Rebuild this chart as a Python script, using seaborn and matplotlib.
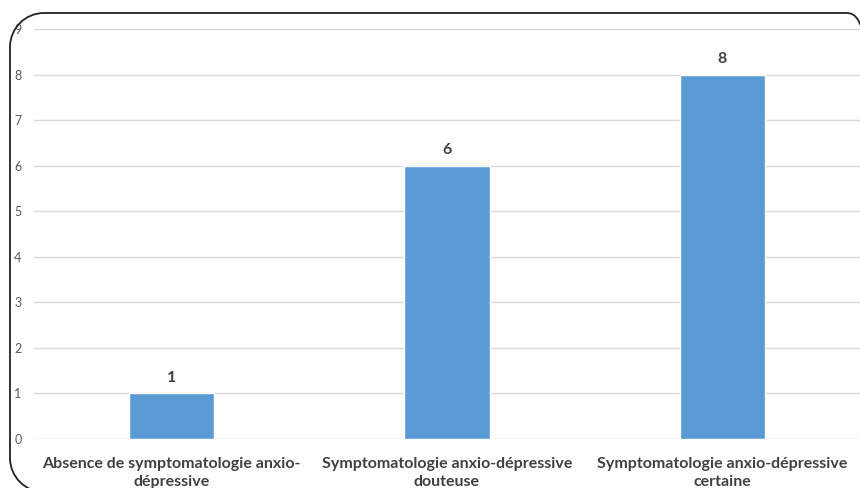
import matplotlib
matplotlib.use("Agg")
import matplotlib.pyplot as plt
from matplotlib.path import Path
from matplotlib.patches import PathPatch
import seaborn as sns
import pandas as pd

categories = [
    "Absence de symptomatologie anxio-\ndépressive",
    "Symptomatologie anxio-dépressive\ndouteuse",
    "Symptomatologie anxio-dépressive\ncertaine",
]
counts = [1, 6, 8]
y_ticks = list(range(0, 10))

df = pd.DataFrame({"categorie": categories, "effectif": counts})

sns.set_theme(style="white")
plt.rcParams["font.family"] = ["Lato", "DejaVu Sans"]

fig = plt.figure(figsize=(8.6, 4.88), dpi=100)
ax = fig.add_axes([34 / 860, 49 / 488, 826 / 860, 410 / 488])

sns.barplot(data=df, x="categorie", y="effectif", color="#5b9bd5",
            width=0.31, saturation=1, ax=ax, zorder=3)

ax.set_ylim(0, 9)
ax.set_yticks(y_ticks)
ax.grid(axis="y", color="#d9d9d9", linewidth=1, zorder=0)
for s in ax.spines.values():
    s.set_visible(False)
ax.tick_params(axis="y", length=0, labelsize=9, labelcolor="#595959", pad=9)
ax.tick_params(axis="x", length=0, labelsize=11.5, labelcolor="#404040", pad=13)
for lab in ax.get_xticklabels():
    lab.set_fontweight("bold")
    lab.set_linespacing(1.35)
ax.set_xlabel("")
ax.set_ylabel("")

for container in ax.containers:
    ax.bar_label(container, fmt="%d", padding=6, fontsize=11.5,
                 fontweight="bold", color="#404040")


def rounded_rect(x0, y0, x1, y1, r):
    k = 0.5523 * r
    verts = [
        (x0 + r, y0), (x1 - r, y0),
        (x1 - r + k, y0), (x1, y0 + r - k), (x1, y0 + r),
        (x1, y1 - r),
        (x1, y1 - r + k), (x1 - r + k, y1), (x1 - r, y1),
        (x0 + r, y1),
        (x0 + r - k, y1), (x0, y1 - r + k), (x0, y1 - r),
        (x0, y0 + r),
        (x0, y0 + r - k), (x0 + r - k, y0), (x0 + r, y0),
    ]
    codes = [Path.MOVETO, Path.LINETO,
             Path.CURVE4, Path.CURVE4, Path.CURVE4,
             Path.LINETO,
             Path.CURVE4, Path.CURVE4, Path.CURVE4,
             Path.LINETO,
             Path.CURVE4, Path.CURVE4, Path.CURVE4,
             Path.LINETO,
             Path.CURVE4, Path.CURVE4, Path.CURVE4]
    return Path(verts, codes)


# rounded frame in pixels (right and bottom edges fall outside the image)
frame = PathPatch(rounded_rect(10, -4, 880, 475, 34),
                  transform=None, fill=False,
                  edgecolor="#222222", linewidth=1.3)
fig.patches.append(frame)

fig.savefig("out.png", dpi=100)
